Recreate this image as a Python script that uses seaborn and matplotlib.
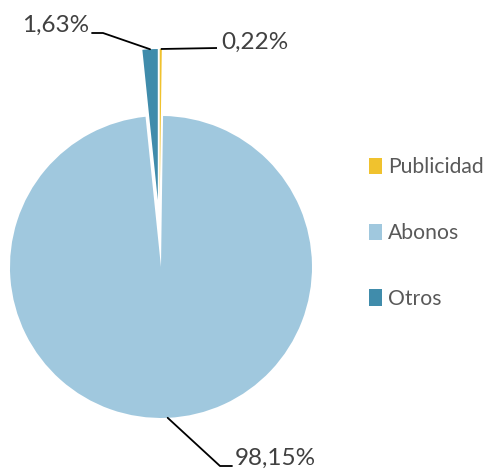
import matplotlib
matplotlib.use("Agg")
import matplotlib.pyplot as plt
import numpy as np
import seaborn as sns

categories = ["Publicidad", "Abonos", "Otros"]
shares = [0.22, 98.15, 1.63]
labels = ["0,22%", "98,15%", "1,63%"]
colors = ["#F0C22E", "#A0C8DE", "#408CAB"]

sns.set_theme(style="white")
plt.rcParams["font.family"] = ["Lato", "DejaVu Sans"]

W, H = 491, 469
fig = plt.figure(figsize=(W / 100, H / 100), dpi=100)
ax = fig.add_axes([0, 0, 1, 1])

R = 151
cx, cy = 159.5, H - 233.5
# explode is in data units here (pixels)
wedges, _ = ax.pie(shares, colors=colors, startangle=90, counterclock=False,
                   explode=[33.5] * 3, radius=R, center=(cx, cy), frame=True,
                   wedgeprops=dict(linewidth=0))
ax.set_xlim(0, W)
ax.set_ylim(0, H)
ax.set_aspect("equal")
ax.axis("off")


def edge_point(w):
    mid = np.deg2rad((w.theta1 + w.theta2) / 2)
    x0, y0 = w.center
    return x0 + w.r * np.cos(mid), y0 + w.r * np.sin(mid)


tc = "#404040"
fs = 17.5
# Publicidad
px, py = edge_point(wedges[0])
ax.plot([px, 217], [py, H - 48], color="black", lw=1.3, solid_capstyle="butt")
ax.text(221, H - 42, labels[0], ha="left", va="center", fontsize=fs, color=tc)
# Abonos
ax_, ay_ = edge_point(wedges[1])
ax.plot([ax_, 220, 232], [ay_, H - 466, H - 466], color="black", lw=1.3)
ax.text(235, H - 458, labels[1], ha="left", va="center", fontsize=fs, color=tc)
# Otros
ox, oy = edge_point(wedges[2])
ax.plot([ox, 103, 92], [oy, H - 33, H - 33], color="black", lw=1.3)
ax.text(89, H - 25, labels[2], ha="right", va="center", fontsize=fs, color=tc)

ax.legend(wedges, categories, loc="center left", bbox_to_anchor=(0.734, 0.503),
          frameon=False, fontsize=15.2, labelcolor="#595959",
          handlelength=0.62, handleheight=0.8, handletextpad=0.3,
          labelspacing=2.17, borderaxespad=0)

fig.savefig("out.png", dpi=100)
